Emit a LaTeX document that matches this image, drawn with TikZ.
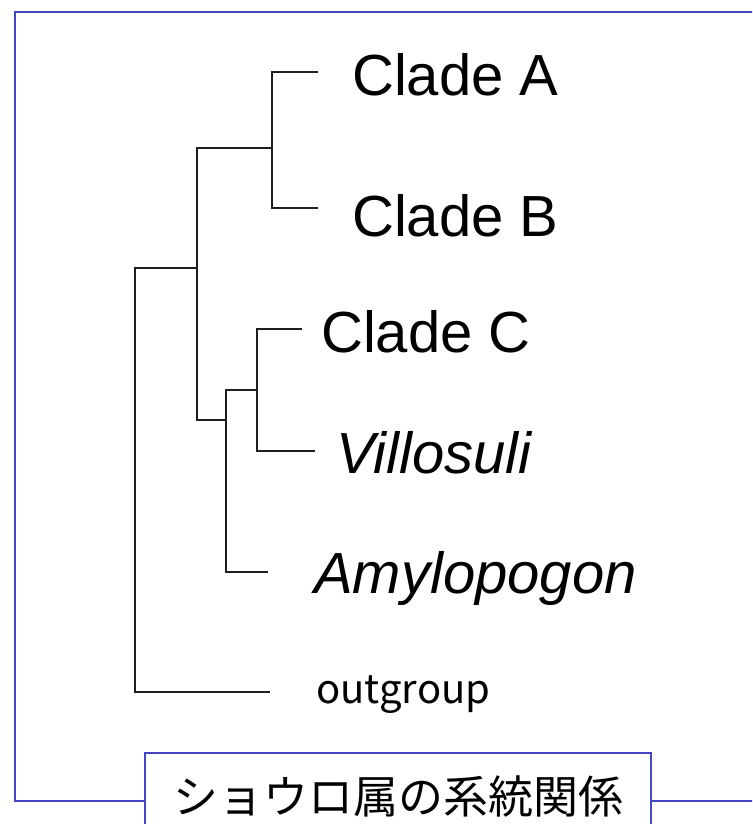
\documentclass[tikz,border=0pt]{standalone}
\usepackage{fontspec}
\setmainfont{Liberation Sans}
\newfontfamily\jpfont{Noto Sans CJK JP}
\definecolor{frameblue}{RGB}{68,68,196}
\definecolor{branch}{RGB}{30,30,30}
\tikzset{
  framebox/.style={draw=frameblue, line width=1.8pt},
  edge/.style={draw=branch, line width=1.8pt},
  taxon/.style={anchor=base west, inner sep=0pt, font=\fontsize{58}{64}\selectfont},
  genus/.style={taxon, font=\fontsize{58}{64}\selectfont\itshape},
  outlabel/.style={anchor=base west, inner sep=0pt, font=\jpfont\fontsize{40}{46}\selectfont},
  titlebox/.style={framebox, fill=white, anchor=north, minimum width=506pt,
    minimum height=88pt, inner sep=0pt, font=\jpfont\fontsize{45}{50}\selectfont}
}
\begin{document}
\begin{tikzpicture}[x=1pt, y=-1pt]
\useasboundingbox (0,0) rectangle (752,824);
\clip (0,0) rectangle (752,824);
\fill[white] (0,0) rectangle (752,824);

% outer frame (its right side lies past the page edge)
\draw[framebox] (15,12) rectangle (780,801);

% internal nodes of the tree
\coordinate (root) at (135,480);
\coordinate (n1)   at (197,268);
\coordinate (ab)   at (272,148);
\coordinate (n2)   at (226,420);
\coordinate (n3)   at (257,390);

% branch tips
\coordinate (tA)   at (318,72);
\coordinate (tB)   at (318,208);
\coordinate (tC)   at (302,329);
\coordinate (tV)   at (315,451);
\coordinate (tAm)  at (268,572);
\coordinate (tOut) at (270,692);

% branches
\draw[edge] (root) |- (n1);
\draw[edge] (root) |- (tOut);
\draw[edge] (n1) |- (ab);
\draw[edge] (n1) |- (n2);
\draw[edge] (ab) |- (tA);
\draw[edge] (ab) |- (tB);
\draw[edge] (n2) |- (n3);
\draw[edge] (n2) |- (tAm);
\draw[edge] (n3) |- (tC);
\draw[edge] (n3) |- (tV);

% taxon labels
\node[taxon] (labA)   at (352,96)  {Clade A};
\node[taxon] (labB)   at (352,236) {Clade B};
\node[taxon] (labC)   at (321,352) {Clade C};
\node[genus] (labV)   at (336,473) {Villosuli};
\node[genus] (labAm)  at (314,593) {Amylopogon};
\node[outlabel] (labOut) at (316,703) {outgroup};

% caption box on the lower frame edge
\node[titlebox] (title) at (398,752) {ショウロ属の系統関係};
\end{tikzpicture}
\end{document}
